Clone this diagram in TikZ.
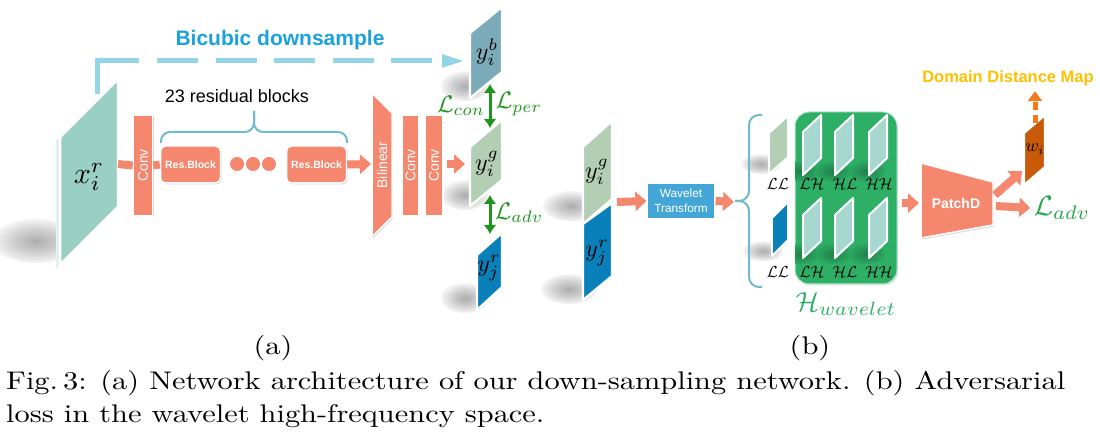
\documentclass[tikz,border=0pt]{standalone}
\usepackage{fontspec}
\setsansfont{Liberation Sans}
\usepackage{graphicx}
\usetikzlibrary{arrows.meta,shadows,calc}
\definecolor{salmon}{HTML}{F5876E}
\definecolor{tealp}{HTML}{9ACFC4}
\definecolor{ybp}{HTML}{7BAAB9}
\definecolor{ygp}{HTML}{B2CEB3}
\definecolor{yrp}{HTML}{0A80BA}
\definecolor{dashblue}{HTML}{93D5E6}
\definecolor{bictext}{HTML}{1BA1DB}
\definecolor{bracec}{HTML}{72B9CF}
\definecolor{lgreen}{HTML}{1E961E}
\definecolor{ladvc}{HTML}{22A64A}
\definecolor{wavebox}{HTML}{44A6D6}
\definecolor{hgreen}{HTML}{2DAF66}
\definecolor{innerp}{HTML}{A6D8CF}
\definecolor{wic}{HTML}{C85A0A}
\definecolor{orangea}{HTML}{F27A1A}
\definecolor{ddm}{HTML}{FFC000}
\pgfdeclareradialshading{softsh}{\pgfpoint{0bp}{0bp}}{color(0bp)=(black!32); color(12bp)=(black!20); color(28bp)=(white); color(50bp)=(white)}
\pgfdeclareradialshading{gsoft}{\pgfpoint{0bp}{0bp}}{color(0bp)=(hgreen!72!black); color(14bp)=(hgreen!86!black); color(30bp)=(hgreen); color(50bp)=(hgreen)}
\newcommand\fsz[1]{\fontsize{#1}{#1}\selectfont}
\newcommand\mth[2]{\scalebox{#1}{\fontsize{10}{12}\selectfont$#2$}}
\newcommand\blob[4]{\shade[shading=softsh] (#1,#2) ellipse [x radius=#3pt, y radius=#4pt];}
\newcommand\gblob[4]{\shade[shading=gsoft] (#1,#2) ellipse [x radius=#3pt, y radius=#4pt];}
\newlength\capwd
\begin{document}
\settowidth{\capwd}{\fontsize{10}{12}\selectfont Fig.\,3: (a) Network architecture of our down-sampling network. (b) Adversarial}%
\pgfmathsetmacro\capsx{1059/\capwd}%
\begin{tikzpicture}[x=1pt,y=-1pt,
  panel/.style={draw=white,line width=2.2pt,line join=round},
  block/.style={fill=salmon,draw=white,line width=1.5pt,inner sep=0pt,
     drop shadow={opacity=0.3,shadow xshift=1.2pt,shadow yshift=-1.5pt}},
  btext/.style={text=white,font=\sffamily\fsz{14}},
  salline/.style={salmon,line width=8pt},
  salarrow/.style={salmon,line width=8pt,-{Triangle[length=11pt,width=19pt]}},
  grarrow/.style={lgreen,line width=3pt,{Latex[length=9pt,width=13pt]}-{Latex[length=9pt,width=13pt]}},
  mlabel/.style={inner sep=0pt},
  captext/.style={inner sep=0pt,anchor=base west}
]
\fill[white] (0,0) rectangle (1100,443);
\useasboundingbox (0,0) rectangle (1100,443);

% ---------- shadows ----------
\blob{36}{241}{44}{22}
\blob{465}{86}{24}{15}
\blob{465}{195}{24}{15}
\blob{465}{298}{24}{15}
\blob{571}{206}{28}{15}
\blob{569}{289}{28}{15}
\blob{761}{164}{20}{10}
\blob{763}{251}{20}{10}

% ---------- (a) ----------
\node[font=\sffamily\bfseries\fsz{21},text=bictext] (bic) at (280,40) {Bicubic downsample};
\coordinate (bstart) at (97,94);
\coordinate (bcorner) at (97,61);
\coordinate (bend) at (435,61);
\draw[dashblue,line width=5pt] (bstart) -- (bcorner) -- (139,61);
\draw[dashblue,line width=5pt,dash pattern=on 41pt off 17.6pt] (157,61) -- (bend);
\fill[dashblue] (442,54) -- (463,61) -- (442,68) -- cycle;

\fill[tealp!30] (56,141) -- (114,83) -- (114,211) -- (56,269) -- cycle;
\filldraw[panel,line width=2.5pt,fill=tealp] (60,137) -- (118,79) -- (118,207) -- (60,265) -- cycle;
\node[mlabel] (xr) at (89,177) {\mth{3.0}{x_i^r}};
\coordinate (xrR) at (118,164);

\node[block,btext,minimum width=19pt,minimum height=101pt] (conv1) at (143,165.5) {\rotatebox{90}{Conv}};
\draw[salline] (xrR) -- (conv1.west);
\node[block,text=white,font=\sffamily\bfseries\fsz{10.5},rounded corners=5pt,minimum width=60pt,minimum height=37pt] (rb1) at (190.5,164.5) {Res.Block};
\draw[salline] (conv1.east) -- (rb1.west);
\node[circle,fill=salmon,minimum size=14pt,inner sep=0pt] (d1) at (237,164) {};
\node[circle,fill=salmon,minimum size=14pt,inner sep=0pt] (d2) at (253,164) {};
\node[circle,fill=salmon,minimum size=14pt,inner sep=0pt] (d3) at (269,164) {};
\node[block,text=white,font=\sffamily\bfseries\fsz{10.5},rounded corners=5pt,minimum width=60pt,minimum height=37pt] (rb2) at (316.5,164.5) {Res.Block};

\draw[bracec,line width=2pt,rounded corners=9pt] (161,143) -- (161,132) -- (254,132) -- (254,111);
\draw[bracec,line width=2pt,rounded corners=9pt] (254,111) -- (254,132) -- (347,132) -- (347,143);
\node[font=\sffamily\fsz{18}] (resb) at (237,96) {23 residual blocks};

\filldraw[fill=salmon,draw=white,line width=1.5pt,drop shadow={opacity=0.3,shadow xshift=1.2pt,shadow yshift=-1.5pt}] (372,93) -- (392,113) -- (392,217) -- (372,237) -- cycle;
\node[btext,inner sep=2pt] (bil) at (382,165) {\rotatebox{90}{Bilinear}};
\coordinate (bilW) at (371,164);
\draw[salarrow] (rb2.east) -- (bilW);
\node[block,btext,minimum width=17pt,minimum height=101pt] (conv2) at (410.5,165.5) {\rotatebox{90}{Conv}};
\node[block,btext,minimum width=18pt,minimum height=101pt] (conv3) at (434,165.5) {\rotatebox{90}{Conv}};
\coordinate (ygW) at (465,164);
\draw[salarrow] ($(conv3.east)+(3,-1.5)$) -- (ygW);

\filldraw[panel,fill=ybp] (470,33) -- (502,7) -- (502,72) -- (470,98) -- cycle;
\node[mlabel] (yb) at (487,52) {\mth{2.4}{y_i^b}};
\filldraw[panel,fill=ygp] (470,147) -- (502,120) -- (502,180) -- (470,206) -- cycle;
\node[mlabel] (yg) at (487,164) {\mth{2.4}{y_i^g}};
\filldraw[panel,fill=yrp] (477,255) -- (502,233) -- (502,287) -- (477,310) -- cycle;
\node[mlabel] (yr) at (489,268) {\mth{2.4}{y_j^r}};
\coordinate (ybB) at (490,84);
\coordinate (ygT) at (490,128);
\coordinate (ygB) at (490,195);
\coordinate (yrT) at (490,234);
\draw[grarrow] (ybB) -- (ygT);
\draw[grarrow] (ygB) -- (yrT);
\node[text=lgreen] (lcon) at (461,106) {\mth{2.4}{\mathcal{L}_{con}}};
\node[text=lgreen] (lper) at (519,104) {\mth{2.4}{\mathcal{L}_{per}}};
\node[text=lgreen] (ladv) at (519,213) {\mth{2.4}{\mathcal{L}_{adv}}};

% ---------- (b) ----------
\filldraw[panel,fill=ygp] (583,147) -- (612,121) -- (612,199) -- (583,224) -- cycle;
\node[mlabel] (yg2) at (597,172) {\mth{2.4}{y_i^g}};
\filldraw[panel,fill=yrp] (583,224) -- (612,203) -- (612,276) -- (583,300) -- cycle;
\node[mlabel] (yr2) at (597,253) {\mth{2.4}{y_j^r}};
\coordinate (pairE) at (617,202);
\node[fill=wavebox,draw=white,line width=1.2pt,text=white,font=\sffamily\fontsize{11.8}{15}\selectfont,align=center,minimum width=68pt,minimum height=36pt,inner sep=1pt,drop shadow={opacity=0.3,shadow xshift=1.2pt,shadow yshift=-1.5pt}] (wt) at (681,201) {Wavelet\\Transform};
\draw[salarrow] (pairE) -- (wt.west);
\coordinate (brT) at (734,202);
\draw[salarrow] (wt.east) -- (brT);
\draw[bracec,line width=2pt,rounded corners=10pt] (762,115) -- (749,115) -- (749,201) -- (735,201);
\draw[bracec,line width=2pt,rounded corners=10pt] (735,201) -- (749,201) -- (749,287) -- (762,287);

\filldraw[panel,line width=1.8pt,fill=ygp] (769,133) -- (788,116) -- (788,157) -- (769,174) -- cycle;
\filldraw[panel,line width=1.8pt,fill=yrp] (772,218) -- (788,202) -- (788,240) -- (772,256) -- cycle;

\node[fill=hgreen,draw=white!70!hgreen,line width=1pt,rounded corners=14pt,minimum width=102pt,minimum height=172pt,drop shadow={opacity=0.25,shadow xshift=1.2pt,shadow yshift=-1.5pt}] (hbox) at (846,198) {};
\begin{scope}
\clip[rounded corners=14pt] (795,112) rectangle (897,284);
\foreach \c in {812,844,878} {
  \gblob{\c-11}{171}{18}{10}
  \gblob{\c-11}{254}{18}{10}
}
\end{scope}
\foreach \c in {812,844,878} {
  \filldraw[panel,line width=2pt,fill=innerp] (\c-9,132) -- (\c+9,115) -- (\c+9,158) -- (\c-9,175) -- cycle;
  \filldraw[panel,line width=2pt,fill=innerp] (\c-9,215) -- (\c+9,198) -- (\c+9,241) -- (\c-9,258) -- cycle;
}
\node[mlabel] (ll1) at (778,184) {\mth{1.6}{\mathcal{LL}}};
\node[mlabel] (lh1) at (812,184) {\mth{1.6}{\mathcal{LH}}};
\node[mlabel] (hl1) at (845,184) {\mth{1.6}{\mathcal{HL}}};
\node[mlabel] (hh1) at (879,184) {\mth{1.6}{\mathcal{HH}}};
\node[mlabel] (ll2) at (778,272) {\mth{1.6}{\mathcal{LL}}};
\node[mlabel] (lh2) at (812,272) {\mth{1.6}{\mathcal{LH}}};
\node[mlabel] (hl2) at (845,272) {\mth{1.6}{\mathcal{HL}}};
\node[mlabel] (hh2) at (879,272) {\mth{1.6}{\mathcal{HH}}};
\node[text=hgreen] (hw) at (846,304) {\mth{2.75}{\mathcal{H}_{wavelet}}};

\filldraw[fill=salmon,draw=white,line width=1.5pt,drop shadow={opacity=0.3,shadow xshift=1.2pt,shadow yshift=-1.5pt}] (921,163) -- (993,182) -- (993,225) -- (921,238) -- cycle;
\node[text=white,font=\sffamily\bfseries\fsz{14}] (pd) at (956,203) {PatchD};
\coordinate (pdW) at (919,203);
\draw[salarrow] ($(hbox.east)+(4,5)$) -- (pdW);
\coordinate (pdE) at (996,206);
\node[text=ladvc] (ladv2) at (1062,208) {\mth{2.8}{\mathcal{L}_{adv}}};
\draw[salarrow] (pdE) -- (ladv2.west);
\coordinate (pdNE) at (995,195);
\coordinate (wiW) at (1022,171);
\draw[salarrow] (pdNE) -- (wiW);
\filldraw[panel,fill=wic] (1024,133) -- (1045,115) -- (1045,167) -- (1024,185) -- cycle;
\node[mlabel] (wi) at (1035,149) {\mth{1.8}{w_i}};
\coordinate (wiT) at (1035,123);
\node[text=ddm,font=\sffamily\bfseries\fsz{16.5}] (ddm) at (1008,78) {Domain Distance Map};
\draw[orangea,line width=5pt,dash pattern=on 8pt off 5pt,-{Triangle[length=10pt,width=14pt]}] (wiT) -- ($(ddm.south)+(27,2)$);

% ---------- captions ----------
\node[inner sep=0pt,anchor=base] (la) at (273,355) {\scalebox{\capsx}[2.55]{\fontsize{10}{12}\selectfont (a)}};
\node[inner sep=0pt,anchor=base] (lb) at (810,355) {\scalebox{\capsx}[2.55]{\fontsize{10}{12}\selectfont (b)}};
\node[captext] (cap1) at (6,389) {\scalebox{\capsx}[2.55]{\fontsize{10}{12}\selectfont Fig.\,3: (a) Network architecture of our down-sampling network. (b) Adversarial}};
\node[captext] (cap2) at (6,422) {\scalebox{\capsx}[2.55]{\fontsize{10}{12}\selectfont loss in the wavelet high-frequency space.}};
\end{tikzpicture}
\end{document}
